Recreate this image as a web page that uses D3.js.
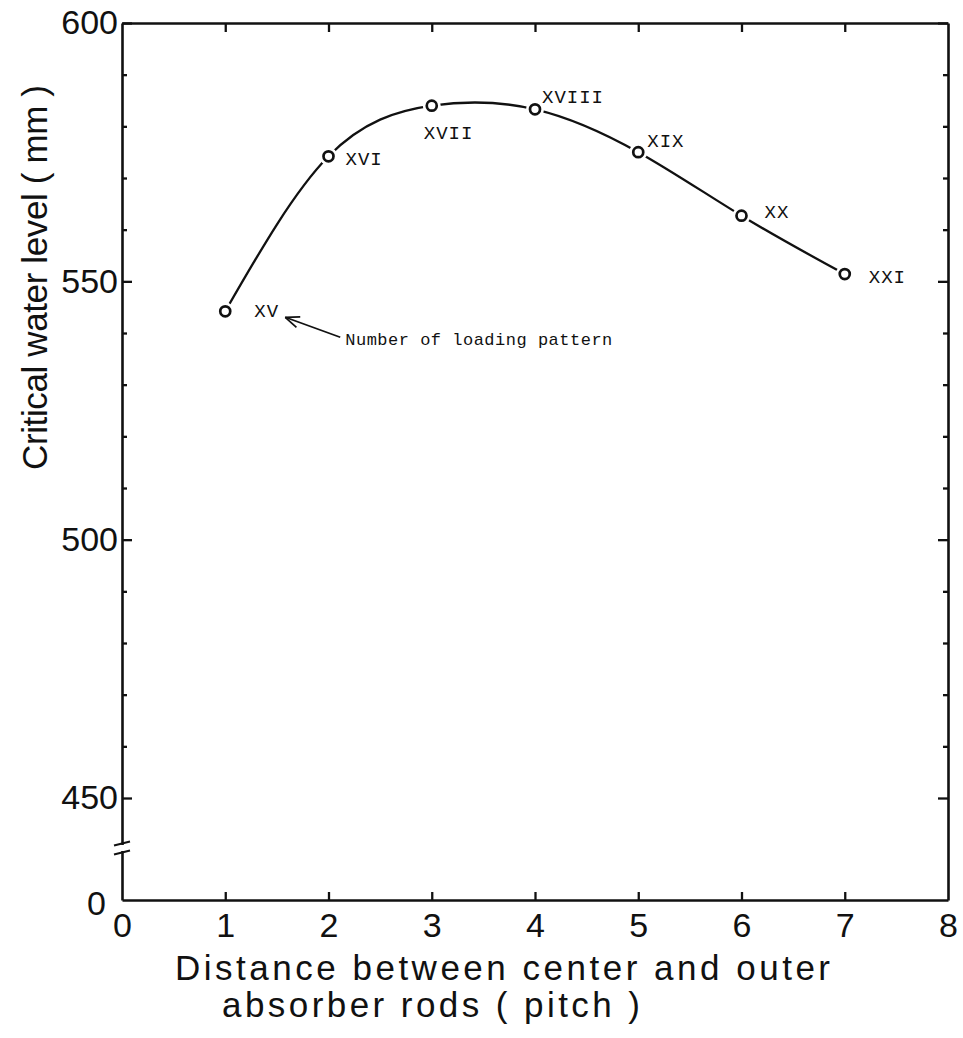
<!DOCTYPE html>
<html>
<head>
<meta charset="utf-8">
<script src="https://cdn.jsdelivr.net/npm/d3@7/dist/d3.min.js"></script>
<style>
body { margin: 0; background: #fff; }
.axis-label { font-family: "Liberation Sans", Arial, sans-serif; font-size: 34px; fill: #111; }
.tw { font-family: "Liberation Mono", "Courier New", monospace; fill: #111; }
</style>
</head>
<body>
<div id="chart"></div>
<script>
// critical water level vs distance between center and outer absorber rods
var distances = [1, 2, 3, 4, 5, 6, 7];
var waterLevels = [544.2, 574.2, 584.0, 583.3, 575.0, 562.7, 551.4];
var patternNames = ["XV", "XVI", "XVII", "XVIII", "XIX", "XX", "XXI"];

var xTickValues = [0, 1, 2, 3, 4, 5, 6, 7, 8];
var yTickValues = [450, 500, 550, 600];
var yMinorValues = [460, 470, 480, 490, 510, 520, 530, 540, 560, 570, 580, 590];

// label offsets from each point (px), kept apart from data
var labelOffsets = [[29, 6], [17, 9], [-8, 33], [7, -6], [9, -5], [23, 2], [24, 9]];

var width = 963, height = 1038;
var plotLeft = 122, plotRight = 948, plotTop = 23, plotBottom = 900;

var svg = d3.select("#chart").append("svg")
    .attr("width", width)
    .attr("height", height)
    .style("background", "#fff");

var x = d3.scaleLinear().domain([0, 8]).range([plotLeft, plotRight]);
// broken axis: 0 sits just under the break, 450..600 is linear
var y = d3.scaleLinear().domain([0, 450, 600]).range([plotBottom, 798, plotTop]);

function styleAxis(g) {
    g.select(".domain").attr("stroke", "#111").attr("stroke-width", 2.6);
    g.selectAll(".tick line").attr("stroke", "#111").attr("stroke-width", 2.3);
    g.selectAll(".tick text").attr("class", "axis-label").attr("fill", "#111");
    g.attr("font-family", null).attr("font-size", null);
}

// bottom axis
var bottomAxis = svg.append("g")
    .attr("transform", "translate(0," + plotBottom + ")")
    .call(d3.axisBottom(x).tickValues(xTickValues).tickSize(-8).tickSizeOuter(0).tickPadding(13).tickFormat(d3.format("d")));
styleAxis(bottomAxis);
bottomAxis.selectAll(".tick").filter(function(d) { return d == 0 || d == 8; }).select("line").remove();

// top axis
var topAxis = svg.append("g")
    .attr("transform", "translate(0," + plotTop + ")")
    .call(d3.axisTop(x).tickValues(xTickValues.slice(1, 8)).tickSize(-9).tickSizeOuter(0).tickFormat(""));
styleAxis(topAxis);

// left axis
var leftAxis = svg.append("g")
    .attr("transform", "translate(" + plotLeft + ",0)")
    .call(d3.axisLeft(y).tickValues(yTickValues).tickSize(-10).tickSizeOuter(0).tickPadding(4).tickFormat(d3.format("d")));
styleAxis(leftAxis);
var leftMinor = svg.append("g")
    .attr("transform", "translate(" + plotLeft + ",0)")
    .call(d3.axisLeft(y).tickValues(yMinorValues).tickSize(-5).tickFormat(""));
leftMinor.select(".domain").remove();
styleAxis(leftMinor);

// lone "0" under the break
svg.append("text")
    .attr("class", "axis-label")
    .attr("x", plotLeft - 16)
    .attr("y", y(0) + 3)
    .attr("dy", "0.35em")
    .attr("text-anchor", "end")
    .text("0");

// right axis
var rightAxis = svg.append("g")
    .attr("transform", "translate(" + plotRight + ",0)")
    .call(d3.axisRight(y).tickValues(yTickValues).tickSize(-10).tickSizeOuter(0).tickFormat(""));
styleAxis(rightAxis);
var rightMinor = svg.append("g")
    .attr("transform", "translate(" + plotRight + ",0)")
    .call(d3.axisRight(y).tickValues(yMinorValues).tickSize(-5).tickFormat(""));
rightMinor.select(".domain").remove();
styleAxis(rightMinor);

// axis break mark on the left axis
var breakY = 848;
svg.append("rect")
    .attr("x", plotLeft - 3).attr("y", breakY - 3)
    .attr("width", 6).attr("height", 6)
    .attr("fill", "#fff");
[-4.5, 4.5].forEach(function(off) {
    svg.append("line")
        .attr("x1", plotLeft - 8).attr("y1", breakY + off + 2)
        .attr("x2", plotLeft + 8).attr("y2", breakY + off - 2)
        .attr("stroke", "#111").attr("stroke-width", 2.2);
});

// curve
var pts = distances.map(function(d, i) { return [d, waterLevels[i]]; });
var line = d3.line()
    .curve(d3.curveNatural)
    .x(function(d) { return x(d[0]); })
    .y(function(d) { return y(d[1]); });

svg.append("path")
    .datum(pts)
    .attr("d", line)
    .attr("fill", "none")
    .attr("stroke", "#111")
    .attr("stroke-width", 2.3);

// white halos so the line stops short of each marker
svg.selectAll(".halo")
    .data(pts)
    .enter().append("circle")
    .attr("class", "halo")
    .attr("cx", function(d) { return x(d[0]); })
    .attr("cy", function(d) { return y(d[1]); })
    .attr("r", 9)
    .attr("fill", "#fff");

svg.selectAll(".dot")
    .data(pts)
    .enter().append("circle")
    .attr("class", "dot")
    .attr("cx", function(d) { return x(d[0]); })
    .attr("cy", function(d) { return y(d[1]); })
    .attr("r", 5)
    .attr("fill", "#fff")
    .attr("stroke", "#111")
    .attr("stroke-width", 2.7);

// roman numeral labels
svg.selectAll(".pattern")
    .data(pts)
    .enter().append("text")
    .attr("class", "tw pattern")
    .attr("x", function(d, i) { return x(d[0]) + labelOffsets[i][0]; })
    .attr("y", function(d, i) { return y(d[1]) + labelOffsets[i][1]; })
    .attr("font-size", 19)
    .attr("letter-spacing", 1)
    .text(function(d, i) { return patternNames[i]; });

// annotation with arrow pointing to XV
var ax = x(distances[0]), ay = y(waterLevels[0]);
var tip = [ax + 60, ay + 6], tail = [ax + 115, ay + 26];
svg.append("line")
    .attr("x1", tail[0]).attr("y1", tail[1])
    .attr("x2", tip[0]).attr("y2", tip[1])
    .attr("stroke", "#111").attr("stroke-width", 1.7);
var ang = Math.atan2(tail[1] - tip[1], tail[0] - tip[0]);
[-0.38, 0.38].forEach(function(a) {
    svg.append("line")
        .attr("x1", tip[0]).attr("y1", tip[1])
        .attr("x2", tip[0] + 15 * Math.cos(ang + a))
        .attr("y2", tip[1] + 15 * Math.sin(ang + a))
        .attr("stroke", "#111").attr("stroke-width", 1.7);
});
svg.append("text")
    .attr("class", "tw")
    .attr("x", tail[0] + 5)
    .attr("y", tail[1] + 8)
    .attr("font-size", 17)
    .attr("letter-spacing", 0.5)
    .text("Number of loading pattern");

// axis titles
svg.append("text")
    .attr("class", "axis-label")
    .attr("x", 175).attr("y", 980)
    .style("font-size", "35px")
    .attr("textLength", 655)
    .attr("lengthAdjust", "spacing")
    .text("Distance between center and outer");
svg.append("text")
    .attr("class", "axis-label")
    .attr("x", 222).attr("y", 1017)
    .style("font-size", "35px")
    .attr("textLength", 418)
    .attr("lengthAdjust", "spacing")
    .text("absorber rods  ( pitch )");

svg.append("text")
    .attr("class", "axis-label")
    .attr("transform", "translate(47,470) rotate(-90)")
    .style("font-size", "35px")
    .attr("textLength", 385)
    .attr("lengthAdjust", "spacing")
    .text("Critical water level ( mm )");
</script>
</body>
</html>
